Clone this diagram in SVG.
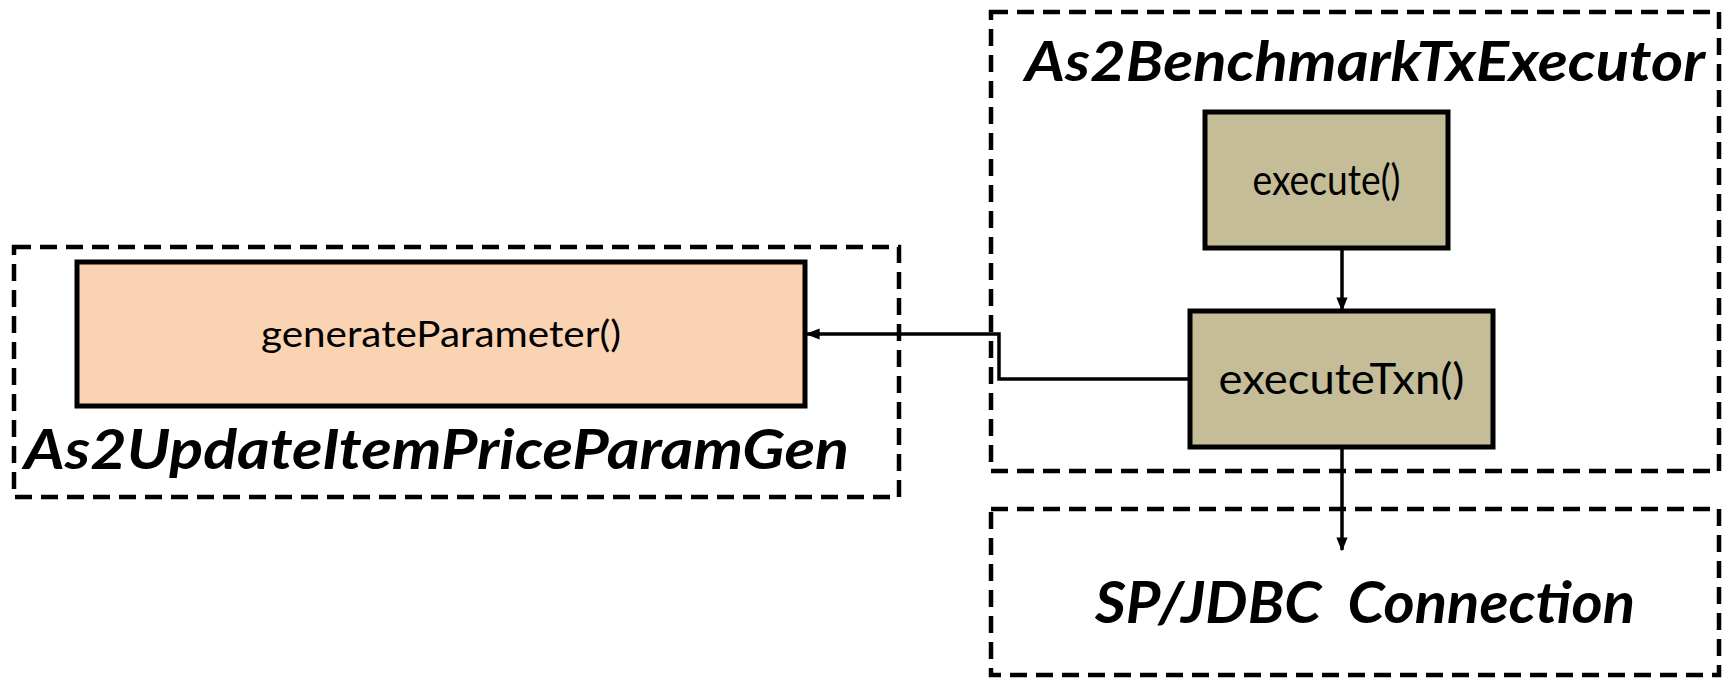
<svg xmlns="http://www.w3.org/2000/svg" width="1729" height="679" viewBox="0 0 1729 679">
<style>
.grp{fill:none;stroke:#000;stroke-width:4.5;stroke-dasharray:17 9}
.box{stroke:#000;stroke-width:5}
.tan{fill:#C4BD97}
.peach{fill:#FAD3B3}
.t{font-family:Lato,"Open Sans",sans-serif;fill:#000}
.title{font-family:Lato,"Open Sans",sans-serif;font-weight:bold;font-style:italic;fill:#000}
.conn{fill:none;stroke:#000;stroke-width:3.5}
</style>
<defs>
<marker id="arr" viewBox="0 0 10 10" refX="9" refY="5" markerWidth="4" markerHeight="4" orient="auto" markerUnits="strokeWidth">
<path d="M0,1 L10,5 L0,9 z" fill="#000"/>
</marker>
</defs>
<rect width="1729" height="679" fill="#fff"/>
<g id="group-executor">
<rect class="grp" x="991" y="12" width="728" height="459"/>
<text class="title" x="1025" y="81" font-size="56" textLength="680" lengthAdjust="spacingAndGlyphs">As2BenchmarkTxExecutor</text>
</g>
<g id="group-paramgen">
<rect class="grp" x="14" y="247" width="885" height="250"/>
<text class="title" x="24" y="469" font-size="56" textLength="825" lengthAdjust="spacingAndGlyphs">As2UpdateItemPriceParamGen</text>
</g>
<g id="group-connection">
<rect class="grp" x="991" y="509" width="728" height="166"/>
<text class="title" x="1365" y="623" font-size="58" text-anchor="middle" textLength="540" lengthAdjust="spacingAndGlyphs" xml:space="preserve">SP/JDBC  Connection</text>
</g>
<g id="node-execute">
<rect class="box tan" x="1205" y="112" width="243" height="136"/>
<text class="t" x="1326.5" y="195" font-size="42" text-anchor="middle" textLength="148" lengthAdjust="spacingAndGlyphs">execute()</text>
</g>
<g id="node-executeTxn">
<rect class="box tan" x="1190" y="311" width="303" height="136"/>
<text class="t" x="1341.5" y="394" font-size="42" text-anchor="middle" textLength="246" lengthAdjust="spacingAndGlyphs">executeTxn()</text>
</g>
<g id="node-generateParameter">
<rect class="box peach" x="77" y="262" width="728" height="144"/>
<text class="t" x="441" y="347" font-size="36" text-anchor="middle" textLength="360" lengthAdjust="spacingAndGlyphs">generateParameter()</text>
</g>
<g id="connectors">
<path class="conn" d="M1342,250 L1342,310" marker-end="url(#arr)"/>
<path class="conn" d="M1190,379 L999,379 L999,334 L807,334" marker-end="url(#arr)"/>
<path class="conn" d="M1342,449 L1342,550" marker-end="url(#arr)"/>
</g>
</svg>
